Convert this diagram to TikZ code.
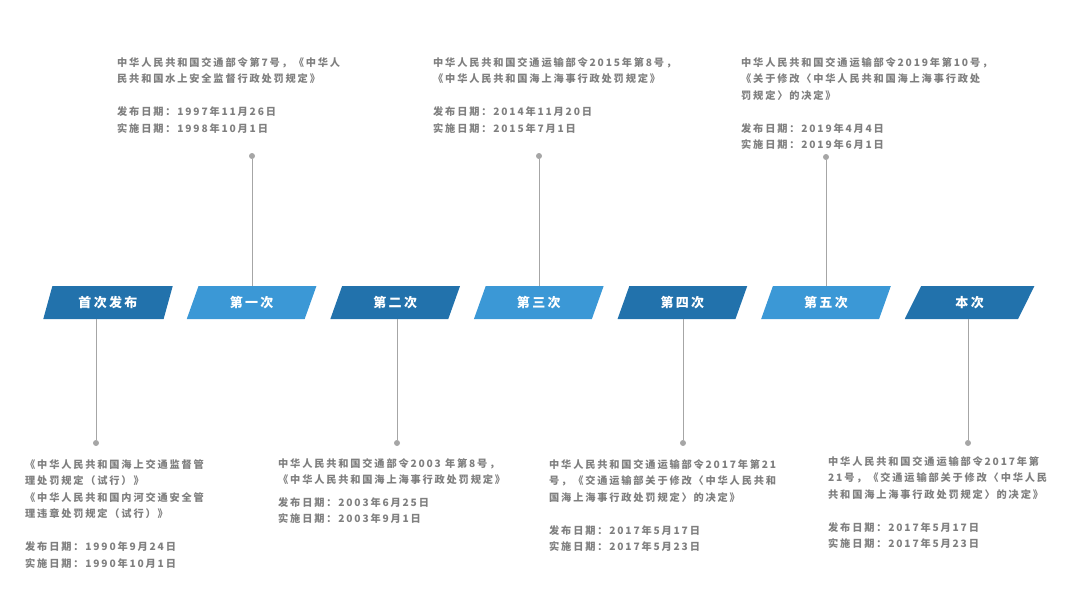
\documentclass[tikz,border=0pt]{standalone}
\usepackage{fontspec}
\setmainfont{Noto Sans CJK SC}[LetterSpace=18]
\usetikzlibrary{shapes.geometric,calc}
\definecolor{darkblue}{HTML}{2272AC}
\definecolor{lightblue}{HTML}{3B98D6}
\definecolor{txtgray}{HTML}{7F7F7F}
\definecolor{pingray}{HTML}{A6A6A6}
\tikzset{
  stage/.style={trapezium,trapezium stretches=true,trapezium left angle=69,trapezium right angle=111,
    minimum width=130pt,minimum height=33pt,inner sep=0pt,text=white,font=\bfseries\fontsize{13}{13}\selectfont},
  info/.style={anchor=north west,align=left,inner sep=0pt,text=txtgray,
    font=\bfseries\fontsize{10.2}{16.5}\selectfont},
  pin/.style={circle,fill=pingray,inner sep=0pt,minimum size=6pt},
  stem/.style={draw=pingray,line width=0.8pt}
}
\begin{document}
\begin{tikzpicture}[x=1pt,y=-1pt]
\useasboundingbox (0,0) rectangle (1080,608);
% stage boxes along the timeline
\foreach \i/\lab/\col in {1/首次发布/darkblue,2/第一次/lightblue,3/第二次/darkblue,4/第三次/lightblue,5/第四次/darkblue,6/第五次/lightblue,7/本次/darkblue}{
  \node[stage,fill=\col] (s\i) at ({108+143.6*(\i-1)},302.5) {\lab};
}
% pins above
\node[pin] (p2) at (252,156) {};
\node[pin] (p4) at (539,156) {};
\node[pin] (p6) at (826,157) {};
% pins below
\node[pin] (p1) at (96,443) {};
\node[pin] (p3) at (397,443) {};
\node[pin] (p5) at (683,443) {};
\node[pin] (p7) at (968,443) {};
\foreach \i in {2,4,6}{
  \draw[stem] (p\i) -- (p\i |- s\i.north);
}
\foreach \i in {1,3,5,7}{
  \draw[stem] (p\i) -- (p\i |- s\i.south);
}
% texts
\node[info] (t2) at (117,57) {中华人民共和国交通部令第7号，《中华人\\民共和国水上安全监督行政处罚规定》\\[16.5pt]发布日期：1997年11月26日\\实施日期：1998年10月1日};
\node[info] (t4) at (433,57) {中华人民共和国交通运输部令2015年第8号，\\《中华人民共和国海上海事行政处罚规定》\\[16.5pt]发布日期：2014年11月20日\\实施日期：2015年7月1日};
\node[info] (t6) at (741,57) {中华人民共和国交通运输部令2019年第10号，\\《关于修改〈中华人民共和国海上海事行政处\\罚规定〉的决定》\\[16.5pt]发布日期：2019年4月4日\\实施日期：2019年6月1日};
\node[info] (t1) at (25,459) {《中华人民共和国海上交通监督管\\理处罚规定（试行）》\\《中华人民共和国内河交通安全管\\理违章处罚规定（试行）》\\[16.5pt]发布日期：1990年9月24日\\实施日期：1990年10月1日};
\node[info] (t3) at (278,458) {中华人民共和国交通部令2003 年第8号，\\《中华人民共和国海上海事行政处罚规定》\\[6pt]发布日期：2003年6月25日\\实施日期：2003年9月1日};
\node[info] (t5) at (549,459) {中华人民共和国交通运输部令2017年第21\\号，《交通运输部关于修改〈中华人民共和\\国海上海事行政处罚规定〉的决定》\\[16.5pt]发布日期：2017年5月17日\\实施日期：2017年5月23日};
\node[info] (t7) at (828,456) {中华人民共和国交通运输部令2017年第\\21号，《交通运输部关于修改〈中华人民\\共和国海上海事行政处罚规定〉的决定》\\[16.5pt]发布日期：2017年5月17日\\实施日期：2017年5月23日};
\end{tikzpicture}
\end{document}
